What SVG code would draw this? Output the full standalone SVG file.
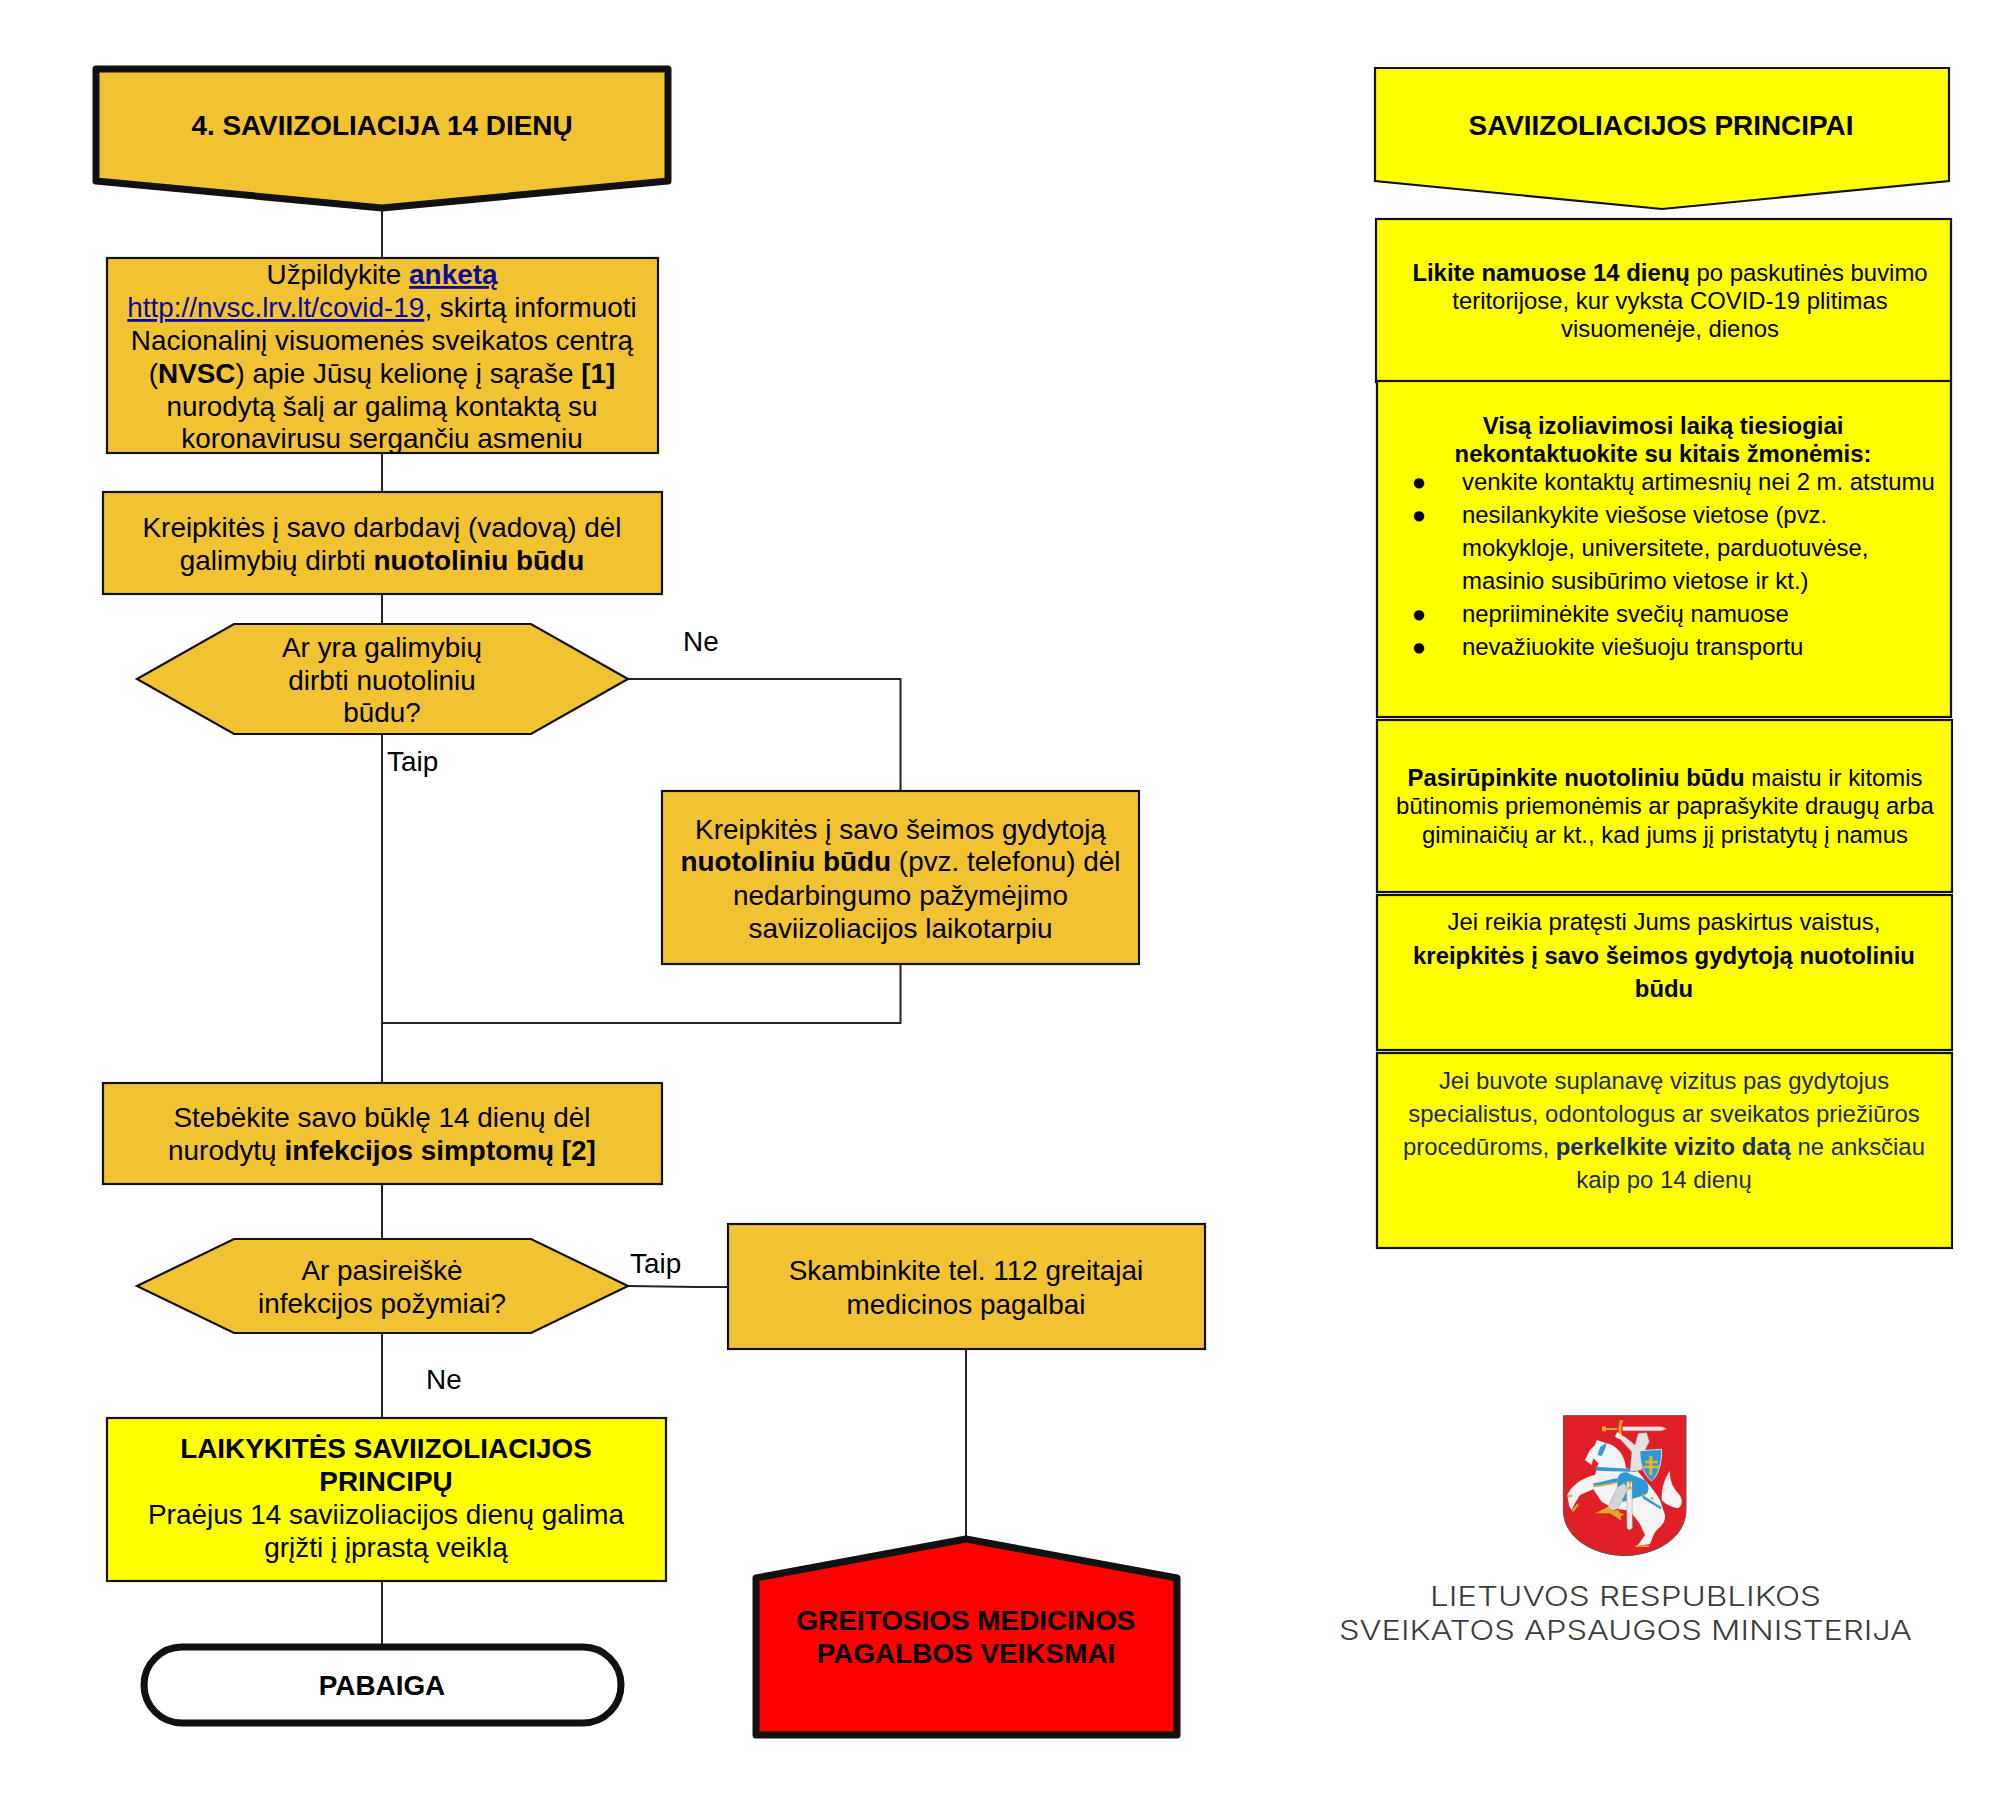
<svg xmlns="http://www.w3.org/2000/svg" width="2000" height="1815" viewBox="0 0 2000 1815">
<style>
text{font-family:"Liberation Sans",Arial,sans-serif;fill:#000;text-anchor:middle}
.t{font-size:27.9px}
.h{font-size:27.9px;font-weight:700}
.r{font-size:23.9px}
.l{text-anchor:start}
.b{font-weight:700}
.o{fill:#f1c232;stroke:#111;stroke-width:2.2}
.y{fill:#ff0;stroke:#111;stroke-width:2.2}
.c{fill:none;stroke:#222;stroke-width:2}
.link{fill:#0a0a9c;text-decoration:underline}
.navy{fill:#1c2a66}
.logo{font-family:Inter,"Liberation Sans",sans-serif;font-weight:300;font-size:27px;fill:#3c3c3c}
</style>
<rect width="2000" height="1815" fill="#fff"/>
<g id="connectors">
<path class="c" d="M382 208V258M382 453V492M382 594V624M382 734V1082M628 679H900.5V791M900.5 964V1023H382M382 1184V1238M382 1333V1418M382 1581V1645M628 1286L697 1287H728M966 1349V1540"/>
</g>
<g id="start">
<path d="M96 69H668V181L382 208L96 181Z" fill="#f1c232" stroke="#111" stroke-width="7" stroke-linejoin="round"/>
<text class="h" x="382" y="135">4. SAVIIZOLIACIJA 14 DIENŲ</text>
</g>
<g id="anketa">
<rect class="o" x="107" y="258" width="551" height="195"/>
<text class="t" x="382" y="284">Užpildykite <tspan class="b link">anketą</tspan></text>
<text class="t" x="382" y="317"><tspan class="link">http://nvsc.lrv.lt/covid-19</tspan>, skirtą informuoti</text>
<text class="t" x="382" y="350">Nacionalinį visuomenės sveikatos centrą</text>
<text class="t" x="382" y="383">(<tspan class="b">NVSC</tspan>) apie Jūsų kelionę į sąraše <tspan class="b">[1]</tspan></text>
<text class="t" x="382" y="416">nurodytą šalį ar galimą kontaktą su</text>
<text class="t" x="382" y="448">koronavirusu sergančiu asmeniu</text>
</g>
<g id="darbdavys">
<rect class="o" x="103" y="492" width="559" height="102"/>
<text class="t" x="382" y="537">Kreipkitės į savo darbdavį (vadovą) dėl</text>
<text class="t" x="382" y="570">galimybių dirbti <tspan class="b">nuotoliniu būdu</tspan></text>
</g>
<g id="decision1">
<path class="o" d="M137 679L234 624H531L628 679L531 734H234Z"/>
<text class="t" x="382" y="657">Ar yra galimybių</text>
<text class="t" x="382" y="690">dirbti nuotoliniu</text>
<text class="t" x="382" y="722">būdu?</text>
</g>
<g id="label-ne1"><text class="t l" x="683" y="651">Ne</text></g>
<g id="label-taip1"><text class="t l" x="387" y="771">Taip</text></g>
<g id="gydytojas">
<rect class="o" x="662" y="791" width="477" height="173"/>
<text class="t" x="900.5" y="839">Kreipkitės į savo šeimos gydytoją</text>
<text class="t" x="900.5" y="871"><tspan class="b">nuotoliniu būdu</tspan> (pvz. telefonu) dėl</text>
<text class="t" x="900.5" y="905">nedarbingumo pažymėjimo</text>
<text class="t" x="900.5" y="938">saviizoliacijos laikotarpiu</text>
</g>
<g id="stebekite">
<rect class="o" x="103" y="1083" width="559" height="101"/>
<text class="t" x="382" y="1127">Stebėkite savo būklę 14 dienų dėl</text>
<text class="t" x="382" y="1160">nurodytų <tspan class="b">infekcijos simptomų [2]</tspan></text>
</g>
<g id="decision2">
<path class="o" d="M137 1286L234 1239H531L628 1286L531 1333H234Z"/>
<text class="t" x="382" y="1280">Ar pasireiškė</text>
<text class="t" x="382" y="1313">infekcijos požymiai?</text>
</g>
<g id="label-taip2"><text class="t l" x="630" y="1273">Taip</text></g>
<g id="label-ne2"><text class="t l" x="426" y="1389">Ne</text></g>
<g id="skambinkite">
<rect class="o" x="728" y="1224" width="477" height="125"/>
<text class="t" x="966" y="1280">Skambinkite tel. 112 greitajai</text>
<text class="t" x="966" y="1314">medicinos pagalbai</text>
</g>
<g id="laikykites">
<rect class="y" x="107" y="1418" width="559" height="163"/>
<text class="t b" x="386" y="1458">LAIKYKITĖS SAVIIZOLIACIJOS</text>
<text class="t b" x="386" y="1491">PRINCIPŲ</text>
<text class="t" x="386" y="1524">Praėjus 14 saviizoliacijos dienų galima</text>
<text class="t" x="386" y="1557">grįžti į įprastą veiklą</text>
</g>
<g id="pabaiga">
<rect x="144" y="1647" width="477" height="76" rx="38" fill="#fff" stroke="#111" stroke-width="7"/>
<text class="t b" x="382" y="1695">PABAIGA</text>
</g>
<g id="greitoji">
<path d="M756 1578L966 1539L1177 1578V1735H756Z" fill="#f00" stroke="#111" stroke-width="7" stroke-linejoin="round"/>
<text class="t b" x="966" y="1630">GREITOSIOS MEDICINOS</text>
<text class="t b" x="966" y="1663">PAGALBOS VEIKSMAI</text>
</g>
<g id="principai">
<path class="y" d="M1375 68H1949V181L1662 209L1375 181Z"/>
<text class="h" x="1661" y="135">SAVIIZOLIACIJOS PRINCIPAI</text>
</g>
<g id="box1">
<rect class="y" x="1376" y="219" width="575" height="163"/>
<text class="r" x="1670" y="281"><tspan class="b">Likite namuose 14 dienų</tspan> po paskutinės buvimo</text>
<text class="r" x="1670" y="309">teritorijose, kur vyksta COVID-19 plitimas</text>
<text class="r" x="1670" y="337">visuomenėje, dienos</text>
</g>
<g id="box2">
<rect class="y" x="1377" y="381" width="574" height="336"/>
<text class="r b" x="1663" y="434">Visą izoliavimosi laiką tiesiogiai</text>
<text class="r b" x="1663" y="462">nekontaktuokite su kitais žmonėmis:</text>
<text class="r" x="1419" y="490">●</text>
<text class="r l" x="1462" y="490">venkite kontaktų artimesnių nei 2 m. atstumu</text>
<text class="r" x="1419" y="523">●</text>
<text class="r l" x="1462" y="523">nesilankykite viešose vietose (pvz.</text>
<text class="r l" x="1462" y="556">mokykloje, universitete, parduotuvėse,</text>
<text class="r l" x="1462" y="589">masinio susibūrimo vietose ir kt.)</text>
<text class="r" x="1419" y="622">●</text>
<text class="r l" x="1462" y="622">nepriiminėkite svečių namuose</text>
<text class="r" x="1419" y="655">●</text>
<text class="r l" x="1462" y="655">nevažiuokite viešuoju transportu</text>
</g>
<g id="box3">
<rect class="y" x="1377" y="720" width="575" height="172"/>
<text class="r" x="1665" y="786"><tspan class="b">Pasirūpinkite nuotoliniu būdu</tspan> maistu ir kitomis</text>
<text class="r" x="1665" y="814">būtinomis priemonėmis ar paprašykite draugų arba</text>
<text class="r" x="1665" y="843">giminaičių ar kt., kad jums jį pristatytų į namus</text>
</g>
<g id="box4">
<rect class="y" x="1377" y="895" width="575" height="155"/>
<text class="r" x="1664" y="930">Jei reikia pratęsti Jums paskirtus vaistus,</text>
<text class="r b" x="1664" y="964">kreipkitės į savo šeimos gydytoją nuotoliniu</text>
<text class="r b" x="1664" y="997">būdu</text>
</g>
<g id="box5">
<rect class="y" x="1377" y="1053" width="575" height="195"/>
<text class="r navy" x="1664" y="1089">Jei buvote suplanavę vizitus pas gydytojus</text>
<text class="r navy" x="1664" y="1122">specialistus, odontologus ar sveikatos priežiūros</text>
<text class="r navy" x="1664" y="1155">procedūroms, <tspan class="b">perkelkite vizito datą</tspan> ne anksčiau</text>
<text class="r navy" x="1664" y="1188">kaip po 14 dienų</text>
</g>
<g id="herbas" transform="translate(1530 1400) scale(.3333)">
<path d="M100 47H468V330C468 410 385 465 284 467C183 465 100 410 100 330Z" fill="#e01f26" stroke="#555" stroke-width="3"/>
<path d="M200 120L225 128C262 135 285 165 288 205L320 210L345 240C365 262 378 280 390 300L405 345C408 375 380 385 372 402L360 432L322 438L345 405L330 372L300 332L250 325L215 305L190 268L150 285L135 310L125 330L118 320L112 285C125 255 160 232 195 225L205 190L190 175L185 195L165 180L180 150L195 135Z" fill="#f4f4f4"/>
<path d="M395 300C395 270 400 240 420 212C418 240 430 265 445 280C458 295 460 315 445 325C425 322 405 312 395 300Z" fill="#f4f4f4"/>
<path d="M195 200L320 208L318 216L200 212ZM190 250C215 248 240 238 262 235L262 245C240 250 215 255 190 258ZM210 142L230 128L226 145L215 168L203 165Z" fill="#2c9ad6"/>
<path d="M190 258C215 254 240 248 262 245L262 250C240 255 215 260 190 262Z" fill="#e0a92c"/>
<path d="M262 240C265 215 290 212 300 222L345 240C360 255 358 280 345 285L280 305L262 290Z" fill="#2c9ad6"/>
<path d="M268 115L282 108L315 135L325 100L350 98L358 125L345 150L335 210L300 215L305 155Z" fill="#e2e2e2" stroke="#999" stroke-width="1.5"/>
<path d="M278 80H395L410 86L395 92H278Z" fill="#e6e6e6" stroke="#aaa"/>
<path d="M216 80L226 78L228 84H262L262 90H228L226 95L216 92ZM270 60L280 60C272 80 272 100 280 112L270 112C264 95 264 75 270 60Z" fill="#e0a92c"/>
<path d="M262 95L280 112L268 118L255 110Z" fill="#eee"/>
<path d="M330 152L395 148C396 190 385 225 365 243C342 225 328 190 330 152Z" fill="#2c9ad6" stroke="#ddd" stroke-width="3"/>
<path d="M358 167H367V182H383V190H367V197H388V205H367V225H358V205H340V197H358V190H345V182H358Z" fill="#eeb420"/>
<path d="M290 245L306 245L307 385L298 390L291 385Z" fill="#ececec" stroke="#999" stroke-width="1.5"/>
<path d="M293 243H305L300 256L305 268H293L298 256Z" fill="#e0a92c"/>
<path d="M262 262L282 250L295 265L265 325L240 335L232 325Z" fill="#d4d4d4" stroke="#999" stroke-width="1.5"/>
<path d="M195 340L235 320L250 332L265 330L270 340L283 342L272 350L274 362L262 354L240 340Z" fill="#e0a92c"/>
<path d="M125 332L142 310L146 316L130 336ZM113 287L127 283L125 291L114 292ZM318 436H358L356 441H316Z" fill="#e0a92c"/>
<path d="M337 275L345 290L395 322L392 328L340 296L333 282Z" fill="#2c9ad6"/>
<circle cx="341" cy="285" r="4" fill="#e0a92c"/><circle cx="366" cy="295" r="4" fill="#e0a92c"/>
</g>
<g id="ministerija">
<text class="logo" x="1625.5" y="1606" textLength="391" lengthAdjust="spacingAndGlyphs">LIETUVOS RESPUBLIKOS</text>
<text class="logo" x="1625.5" y="1640" textLength="573" lengthAdjust="spacingAndGlyphs">SVEIKATOS APSAUGOS MINISTERIJA</text>
</g>
</svg>
